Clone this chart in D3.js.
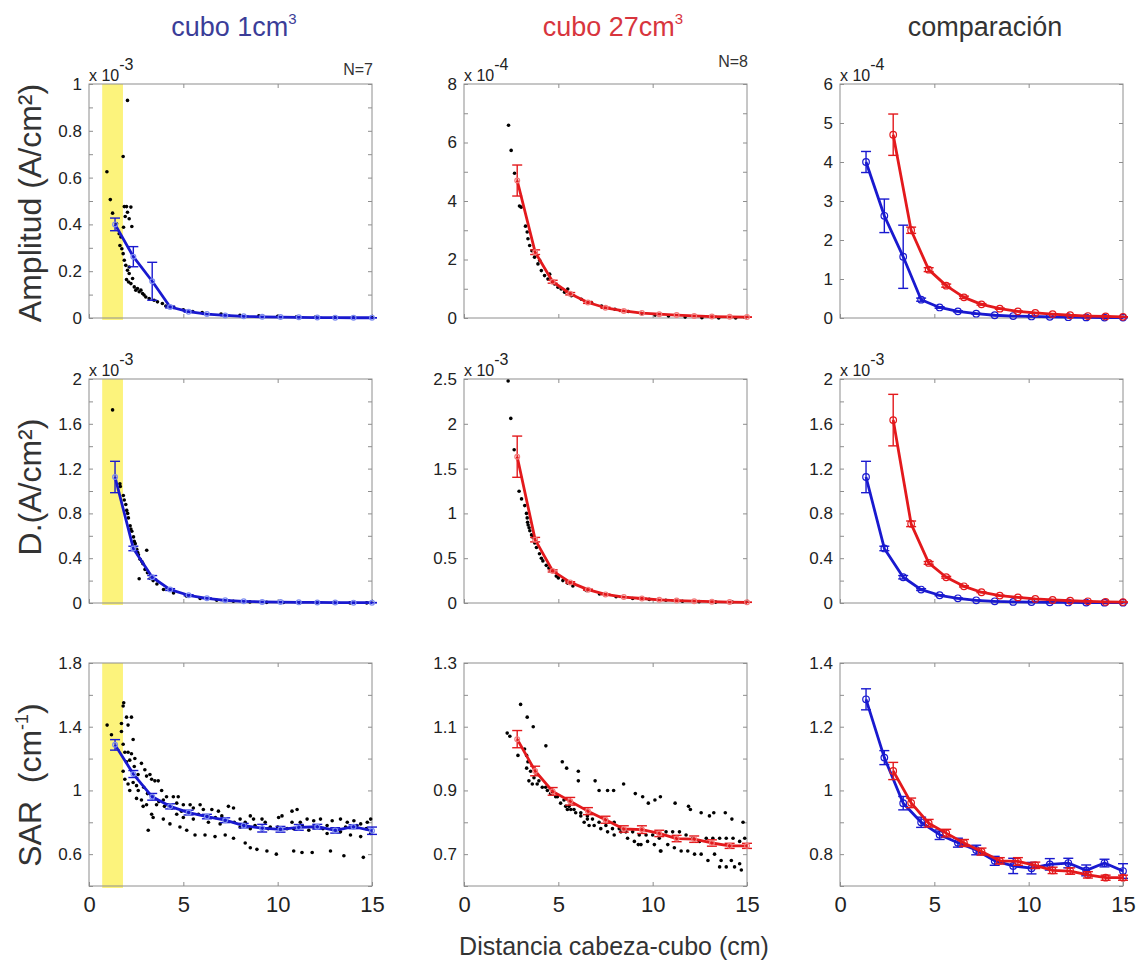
<!DOCTYPE html>
<html>
<head>
<meta charset="utf-8">
<script src="https://cdnjs.cloudflare.com/ajax/libs/d3/7.8.5/d3.min.js"></script>
<style>
    body { margin: 0; background: #fff; }
    svg text { font-family: "Liberation Sans", Arial, sans-serif; }
</style>
</head>
<body>
<svg id="chart" width="1148" height="965"></svg>
<script>
// distance bins (cm)
var distBlue = [1.38, 2.35, 3.35, 4.3, 5.28, 6.25, 7.22, 8.2, 9.18, 10.15, 11.12, 12.1, 13.05, 14.02, 15.0];
var distRed = [2.82, 3.77, 4.7, 5.63, 6.57, 7.5, 8.47, 9.43, 10.35, 11.27, 12.2, 13.14, 14.08, 15.0];

// amplitude, x 10^-4
var ampBlue = [4.0, 2.62, 1.57, 0.47, 0.27, 0.17, 0.11, 0.07, 0.05, 0.04, 0.03, 0.02, 0.015, 0.01, 0.01];
var ampBlueErr = [0.27, 0.43, 0.81, 0.04, 0.02, 0.015, 0.01, 0.008, 0.006, 0.005, 0.005, 0.004, 0.004, 0.003, 0.003];
var ampRed = [4.70, 2.25, 1.24, 0.83, 0.53, 0.35, 0.24, 0.17, 0.13, 0.10, 0.07, 0.05, 0.04, 0.03];
var ampRedErr = [0.53, 0.08, 0.05, 0.04, 0.03, 0.02, 0.015, 0.01, 0.01, 0.008, 0.006, 0.005, 0.004, 0.004];

// density, x 10^-3
var densBlue = [1.125, 0.487, 0.23, 0.12, 0.069, 0.042, 0.024, 0.015, 0.01, 0.008, 0.006, 0.005, 0.004, 0.003, 0.003];
var densBlueErr = [0.14, 0.02, 0.015, 0.008, 0.005, 0.003, 0.002, 0.002, 0.001, 0.001, 0.001, 0.001, 0.001, 0.001, 0.001];
var densRed = [1.633, 0.707, 0.358, 0.23, 0.149, 0.096, 0.066, 0.05, 0.036, 0.027, 0.02, 0.015, 0.01, 0.008];
var densRedErr = [0.23, 0.025, 0.012, 0.008, 0.006, 0.004, 0.003, 0.002, 0.002, 0.001, 0.001, 0.001, 0.001, 0.001];

// SAR (cm^-1)
var sarBlue = [1.286, 1.103, 0.96, 0.9, 0.861, 0.836, 0.813, 0.779, 0.763, 0.756, 0.768, 0.772, 0.749, 0.772, 0.747];
var sarBlueErr = [0.033, 0.022, 0.021, 0.016, 0.015, 0.014, 0.015, 0.014, 0.024, 0.018, 0.018, 0.015, 0.017, 0.012, 0.023];
var sarRed = [1.061, 0.961, 0.897, 0.866, 0.835, 0.808, 0.779, 0.777, 0.765, 0.749, 0.747, 0.735, 0.726, 0.726];
var sarRedErr = [0.027, 0.015, 0.012, 0.012, 0.011, 0.011, 0.01, 0.012, 0.01, 0.01, 0.01, 0.01, 0.008, 0.008];

// individual measurements (black dots)
var ampDots1 = [[2.04,0.93],[1.81,0.69],[0.95,0.625],[1.13,0.506],[1.25,0.448],[1.87,0.476],[1.99,0.476],[2.22,0.474],
    [2.04,0.452],[1.92,0.434],[2.13,0.424],[2.27,0.391],[1.83,0.388],[1.46,0.403],[1.6,0.36],[1.69,0.346],[1.64,0.31],
    [1.74,0.296],[1.81,0.275],[1.87,0.247],[1.95,0.225],[2.04,0.204],[2.13,0.19],[1.99,0.164],[2.1,0.154],[2.22,0.147],
    [2.4,0.133],[2.48,0.119],[2.66,0.112],[2.84,0.105],[3.01,0.09],[3.19,0.083],[3.45,0.076],[3.63,0.069],[3.89,0.062],
    [4.07,0.051],[2.57,0.126],[2.75,0.119],[2.92,0.098],[2.31,0.169],[2.13,0.218],[4.5,0.045],[5.0,0.035],[5.5,0.028],
    [6.0,0.023],[7.0,0.017],[8.0,0.012],[9.0,0.009],[10.0,0.007],[11.0,0.005],[12.0,0.004],[13.0,0.003],[14.0,0.003],[15.0,0.002]];
var ampDots27 = [[2.36,6.59],[2.5,5.73],[2.68,4.95],[2.94,3.83],[3.03,3.79],[3.26,3.14],[3.35,2.94],[3.39,2.71],[3.48,2.48],
    [3.6,2.3],[3.74,2.08],[3.92,1.85],[4.1,1.62],[4.27,1.45],[4.45,1.33],[4.71,1.22],[4.98,1.05],[5.33,0.88],[5.5,0.99],
    [5.69,0.76],[6.22,0.64],[6.76,0.53],[7.29,0.41],[8.0,0.3],[8.71,0.22],[9.42,0.15],[10.13,0.1],[10.84,0.07],[11.72,0.03],
    [12.61,0.01],[13.5,0.0],[14.4,0.0],[4.01,1.97],[4.54,1.5],[4.8,1.16],[5.15,0.99]];
var densDots1 = [[1.25,1.724],[1.64,1.064],[1.66,1.04],[1.82,0.96],[1.87,0.92],[2.0,0.827],[2.09,0.76],[2.18,0.69],[2.27,0.64],
    [2.36,0.59],[2.45,0.53],[2.53,0.48],[2.62,0.43],[2.71,0.39],[2.86,0.35],[3.06,0.471],[2.66,0.216],[2.97,0.3],[3.25,0.22],
    [3.6,0.17],[3.95,0.12],[4.48,0.09],[5.18,0.06],[5.89,0.04],[6.77,0.025],[7.65,0.015],[8.53,0.01],[9.42,0.006],[10.3,0.004],
    [11.19,0.003],[12.07,0.002],[12.96,0.002],[13.84,0.001],[14.72,0.001],[1.95,0.88],[2.05,0.8],[2.22,0.66],[2.4,0.55],
    [2.58,0.45],[2.8,0.37],[3.1,0.27],[3.4,0.2]];
var densDots27 = [[2.34,2.478],[2.48,2.06],[2.66,1.71],[2.92,1.248],[3.05,1.162],[3.22,1.087],[3.31,1.0],[3.37,0.9],[3.4,0.87],
    [3.49,0.807],[3.66,0.73],[3.84,0.62],[4.0,0.55],[4.18,0.47],[4.36,0.42],[4.62,0.36],[4.89,0.3],[5.24,0.25],[5.77,0.19],
    [6.48,0.14],[7.18,0.1],[8.06,0.07],[8.94,0.05],[9.82,0.04],[10.7,0.03],[11.58,0.02],[12.46,0.015],[13.34,0.01],[14.22,0.01],
    [14.93,0.01],[3.35,0.95],[3.45,0.84],[3.58,0.76],[3.75,0.67],[4.1,0.5],[4.5,0.39],[5.0,0.28],[5.5,0.22]];
var sarDots1 = [[1.84,1.55],[1.81,1.53],[0.96,1.41],[1.19,1.35],[1.72,1.42],[1.99,1.46],[2.25,1.46],[2.07,1.41],[1.72,1.37],
    [2.34,1.32],[1.81,1.29],[1.9,1.24],[2.07,1.24],[2.25,1.23],[2.16,1.19],[2.43,1.2],[1.99,1.18],[1.81,1.12],[1.9,1.07],
    [2.07,1.04],[2.16,1.0],[2.34,1.05],[2.52,1.03],[2.78,1.17],[2.96,1.13],[3.05,1.09],[3.23,1.1],[3.32,1.07],[3.49,1.06],
    [3.67,1.06],[2.61,1.0],[2.52,0.95],[2.78,0.94],[2.87,0.9],[3.05,0.91],[3.32,0.85],[3.58,0.91],[3.85,1.0],[3.94,0.94],
    [4.11,0.96],[4.47,0.96],[4.73,0.96],[4.2,0.91],[3.94,0.82],[3.4,0.83],[3.14,0.75],[4.29,0.79],[4.82,0.77],[5.18,0.75],
    [5.62,0.72],[6.15,0.72],[6.68,0.71],[7.22,0.72],[7.66,0.7],[8.28,0.67],[8.55,0.64],[8.9,0.63],[9.43,0.62],[9.93,0.6],
    [10.85,0.62],[11.29,0.61],[11.83,0.61],[12.8,0.62],[13.51,0.59],[14.54,0.58],
    [4.65,0.92],[5.0,0.91],[5.36,0.91],[5.53,0.89],[5.89,0.91],[6.06,0.88],[6.51,0.88],[6.86,0.87],[7.04,0.84],[7.39,0.9],
    [7.66,0.89],[8.01,0.82],[8.28,0.8],[8.55,0.84],[8.72,0.82],[9.17,0.82],[9.34,0.8],[10.05,0.83],[10.23,0.84],[10.76,0.87],
    [11.03,0.88],[10.76,0.8],[11.2,0.8],[11.56,0.82],[11.91,0.81],[12.27,0.82],[12.62,0.78],[12.89,0.81],[13.33,0.82],
    [13.69,0.8],[14.04,0.81],[14.4,0.79],[14.75,0.8],[14.93,0.82],
    [8.01,0.77],[8.55,0.76],[9.61,0.77],[10.14,0.75],[10.85,0.76],[11.65,0.75],[12.62,0.73],[13.33,0.74],[13.86,0.72],
    [14.4,0.71],[14.93,0.73],[6.95,0.79],[6.33,0.8],[5.53,0.82],[5.0,0.83],[4.65,0.85],
    [2.4,1.15],[2.6,1.1],[2.9,1.02],[3.1,0.98],[3.4,0.96],[3.7,0.93],[4.0,0.9],[4.4,0.89],[4.9,0.87],[5.3,0.86],[5.8,0.85],
    [6.3,0.84],[6.7,0.83],[7.2,0.81],[7.7,0.8],[8.3,0.78],[8.8,0.78],[9.5,0.76],[10.0,0.77],[10.5,0.76],[11.3,0.78],
    [11.9,0.77],[12.4,0.76],[13.1,0.75],[13.6,0.77],[14.2,0.78],[14.7,0.76]];
var sarDots27 = [[3.0,1.17],[3.35,1.13],[3.67,1.1],[2.29,1.08],[2.43,1.07],[2.86,1.01],[3.21,1.03],[3.32,1.01],[3.39,0.99],
    [3.32,0.97],[3.53,0.96],[4.34,1.04],[5.21,0.99],[5.44,0.97],[6.06,0.96],[6.06,0.93],[6.95,0.93],[7.16,0.9],[7.61,0.9],
    [7.93,0.9],[8.46,0.92],[9.08,0.89],[9.47,0.88],[9.77,0.86],[10.12,0.87],[10.41,0.88],[11.19,0.86],[11.9,0.85],[12.0,0.84],
    [12.57,0.83],[13.01,0.82],[13.24,0.83],[13.85,0.83],[14.2,0.81],[14.79,0.8],
    [3.44,0.93],[3.62,0.92],[3.88,0.92],[4.15,0.91],[4.42,0.9],[4.68,0.89],[4.86,0.88],[5.12,0.86],[5.39,0.85],[5.66,0.84],
    [5.92,0.83],[6.19,0.82],[6.37,0.8],[6.63,0.79],[6.9,0.79],[7.25,0.78],[7.61,0.77],[7.96,0.76],[8.32,0.77],[8.67,0.75],
    [9.03,0.74],[9.38,0.73],[9.73,0.74],[10.09,0.73],[10.44,0.71],[10.8,0.73],[11.15,0.72],[11.51,0.71],[11.86,0.71],
    [12.22,0.7],[12.57,0.7],[12.93,0.68],[13.28,0.7],[13.63,0.68],[13.9,0.66],[14.17,0.68],[14.34,0.66],[14.61,0.67],
    [14.7,0.65],[13.55,0.66],[10.41,0.71],[9.24,0.73],
    [3.71,0.94],[3.97,0.93],[4.33,0.91],[4.59,0.89],[4.95,0.88],[5.3,0.87],[5.57,0.85],[5.83,0.84],[6.19,0.83],[6.54,0.82],
    [6.81,0.81],[7.16,0.8],[7.52,0.79],[7.87,0.78],[8.23,0.78],[8.58,0.77],[8.94,0.77],[9.29,0.76],[9.65,0.76],[10.0,0.76],
    [10.35,0.75],[10.71,0.77],[11.06,0.77],[11.42,0.77],[11.77,0.76],[12.13,0.75],[12.48,0.74],[12.84,0.75],[13.19,0.75],
    [13.55,0.75],[13.9,0.75],[14.26,0.75],[14.61,0.74],[14.88,0.75],[7.96,0.8],[6.54,0.81],[5.48,0.84]];

// ticks
var distTicks = [0, 5, 10, 15];
var ampTicks1 = [0, 0.1, 0.2, 0.3, 0.4, 0.5, 0.6, 0.7, 0.8, 0.9, 1];
var ampLabels1 = [0, 0.2, 0.4, 0.6, 0.8, 1];
var ampTicks27 = [0, 1, 2, 3, 4, 5, 6, 7, 8];
var ampLabels27 = [0, 2, 4, 6, 8];
var ampTicksCmp = [0, 1, 2, 3, 4, 5, 6];
var densTicks1 = [0, 0.2, 0.4, 0.6, 0.8, 1, 1.2, 1.4, 1.6, 1.8, 2];
var densLabels1 = [0, 0.4, 0.8, 1.2, 1.6, 2];
var densTicks27 = [0, 0.5, 1, 1.5, 2, 2.5];
var sarTicks1 = [0.4, 0.6, 0.8, 1, 1.2, 1.4, 1.6, 1.8];
var sarLabels1 = [0.6, 1, 1.4, 1.8];
var sarTicks27 = [0.6, 0.7, 0.8, 0.9, 1, 1.1, 1.2, 1.3];
var sarLabels27 = [0.7, 0.9, 1.1, 1.3];
var sarTicksCmp = [0.7, 0.8, 0.9, 1, 1.1, 1.2, 1.3, 1.4];
var sarLabelsCmp = [0.8, 1, 1.2, 1.4];

var blue = "#1919cf", red = "#e3191c";
var blueLight = "#7d8cf0", redLight = "#f27a7a";

var svg = d3.select("#chart");
var colLeft = [89, 464, 840], colWidth = 283;
var rowTop = [84, 379, 663], rowHeight = [234, 224, 223];

function s(x, y, e, color, light) { return {x: x, y: y, e: e, color: color, light: light}; }

var panels = [
    {row: 0, col: 0, dom: [0, 1], ticks: ampTicks1, labels: ampLabels1, dots: ampDots1, exp: "-3", note: "N=7",
        series: [s(distBlue, ampBlue.map(function(v){ return v / 10; }), ampBlueErr.map(function(v){ return v / 10; }), blue, blueLight)]},
    {row: 0, col: 1, dom: [0, 8], ticks: ampTicks27, labels: ampLabels27, dots: ampDots27, exp: "-4", note: "N=8",
        series: [s(distRed, ampRed, ampRedErr, red, redLight)]},
    {row: 0, col: 2, dom: [0, 6], ticks: ampTicksCmp, labels: ampTicksCmp, exp: "-4", cmp: true,
        series: [s(distBlue, ampBlue, ampBlueErr, blue), s(distRed, ampRed, ampRedErr, red)]},
    {row: 1, col: 0, dom: [0, 2], ticks: densTicks1, labels: densLabels1, dots: densDots1, exp: "-3",
        series: [s(distBlue, densBlue, densBlueErr, blue, blueLight)]},
    {row: 1, col: 1, dom: [0, 2.5], ticks: densTicks27, labels: densTicks27, dots: densDots27, exp: "-3",
        series: [s(distRed, densRed, densRedErr, red, redLight)]},
    {row: 1, col: 2, dom: [0, 2], ticks: densTicks1, labels: densLabels1, exp: "-3", cmp: true,
        series: [s(distBlue, densBlue, densBlueErr, blue), s(distRed, densRed, densRedErr, red)]},
    {row: 2, col: 0, dom: [0.4, 1.8], ticks: sarTicks1, labels: sarLabels1, dots: sarDots1,
        series: [s(distBlue, sarBlue, sarBlueErr, blue, blueLight)]},
    {row: 2, col: 1, dom: [0.6, 1.3], ticks: sarTicks27, labels: sarLabels27, dots: sarDots27,
        series: [s(distRed, sarRed, sarRedErr, red, redLight)]},
    {row: 2, col: 2, dom: [0.7, 1.4], ticks: sarTicksCmp, labels: sarLabelsCmp, cmp: true,
        series: [s(distBlue, sarBlue, sarBlueErr, blue), s(distRed, sarRed, sarRedErr, red)]}
];

function fmt(v) { return String(+v.toFixed(2)); }

panels.forEach(function(p) {
    var w = colWidth, h = rowHeight[p.row];
    var left = colLeft[p.col], top = rowTop[p.row];
    var g = svg.append("g").attr("transform", "translate(" + left + "," + top + ")");

    var x = d3.scaleLinear().domain([0, 15]).range([0, w]);
    var y = d3.scaleLinear().domain(p.dom).range([h, 0]);

    // yellow band for cube 1 panels
    if (p.col === 0) {
        g.append("rect")
            .attr("x", x(0.7)).attr("y", 0)
            .attr("width", x(1.8) - x(0.7)).attr("height", h + 2)
            .attr("fill", "#fcf37c");
    }

    g.append("rect")
        .attr("width", w).attr("height", h)
        .attr("fill", "none").attr("stroke", "#8e8e8e");

    var isLabel = function(v) { return p.labels.some(function(l){ return Math.abs(l - v) < 1e-9; }); };

    var yl = g.append("g")
        .call(d3.axisLeft(y).tickValues(p.ticks).tickSizeInner(-4).tickSizeOuter(0).tickPadding(7)
            .tickFormat(function(v){ return isLabel(v) ? fmt(v) : ""; }));
    var yr = g.append("g").attr("transform", "translate(" + w + ",0)")
        .call(d3.axisRight(y).tickValues(p.ticks).tickSizeInner(-4).tickSizeOuter(0).tickFormat(""));
    var xt = g.append("g")
        .call(d3.axisTop(x).tickValues([5, 10]).tickSizeInner(-4).tickSizeOuter(0).tickFormat(""));
    var xb = g.append("g").attr("transform", "translate(0," + h + ")")
        .call(d3.axisBottom(x).tickValues(distTicks).tickSizeInner(-4).tickSizeOuter(0).tickPadding(10)
            .tickFormat(p.row === 2 ? d3.format("d") : ""));

    [yl, yr, xt, xb].forEach(function(a) {
        a.select(".domain").remove();
        a.selectAll(".tick line").attr("stroke", "#8e8e8e");
    });
    yl.selectAll("text").attr("font-size", 17).attr("fill", "#222");
    xb.selectAll("text").attr("font-size", 22).attr("fill", "#222");

    // scatter of individual cases
    if (p.dots) {
        g.append("g").selectAll("circle")
            .data(p.dots).enter().append("circle")
            .attr("cx", function(d){ return x(d[0]); })
            .attr("cy", function(d){ return y(d[1]); })
            .attr("r", 1.8)
            .attr("fill", "#000");
    }

    var line = d3.line()
        .x(function(d){ return x(d[0]); })
        .y(function(d){ return y(d[1]); });

    p.series.forEach(function(sr) {
        var pts = sr.x.map(function(v, i){ return [v, sr.y[i], sr.e[i]]; });
        var sg = g.append("g");

        // error bars
        var eb = sg.selectAll(".err").data(pts).enter().append("g").attr("class", "err")
            .attr("stroke", sr.color).attr("stroke-width", 1.4);
        eb.append("line")
            .attr("x1", function(d){ return x(d[0]); }).attr("x2", function(d){ return x(d[0]); })
            .attr("y1", function(d){ return y(d[1] - d[2]); }).attr("y2", function(d){ return y(d[1] + d[2]); });
        eb.append("line")
            .attr("x1", function(d){ return x(d[0]) - 5; }).attr("x2", function(d){ return x(d[0]) + 5; })
            .attr("y1", function(d){ return y(d[1] - d[2]); }).attr("y2", function(d){ return y(d[1] - d[2]); });
        eb.append("line")
            .attr("x1", function(d){ return x(d[0]) - 5; }).attr("x2", function(d){ return x(d[0]) + 5; })
            .attr("y1", function(d){ return y(d[1] + d[2]); }).attr("y2", function(d){ return y(d[1] + d[2]); });

        sg.append("path")
            .datum(pts)
            .attr("d", line)
            .attr("fill", "none")
            .attr("stroke", sr.color)
            .attr("stroke-width", 2.8)
            .attr("stroke-linejoin", "round");

        sg.selectAll(".mk").data(pts).enter().append("circle").attr("class", "mk")
            .attr("cx", function(d){ return x(d[0]); })
            .attr("cy", function(d){ return y(d[1]); })
            .attr("r", p.cmp ? 3.3 : 2.4)
            .attr("fill", "none")
            .attr("stroke", p.cmp ? sr.color : sr.light)
            .attr("stroke-width", 1.2);
    });

    if (p.exp) {
        var t = g.append("text").attr("x", 0).attr("y", -3)
            .attr("font-size", 16).attr("fill", "#222").text("x 10");
        t.append("tspan").attr("dy", -11).attr("font-size", 16).text(p.exp);
    }
    if (p.note) {
        g.append("text").attr("x", w + 1).attr("y", p.col === 0 ? -9 : -17)
            .attr("text-anchor", "end").attr("font-size", 16).attr("fill", "#333").text(p.note);
    }
});

// column titles
function title(xp, txt, sup, color) {
    var t = svg.append("text").attr("x", xp).attr("y", 36)
        .attr("text-anchor", "middle").attr("font-size", 27).attr("fill", color).text(txt);
    if (sup) t.append("tspan").attr("dy", -12).attr("font-size", 15).text(sup);
}
title(234, "cubo 1cm", "3", "#3b3d98");
title(613, "cubo 27cm", "3", "#d8353d");
title(985, "comparación", null, "#333");

// row labels
function rowLabel(cy, build) {
    var t = svg.append("text")
        .attr("transform", "translate(41," + cy + ") rotate(-90)")
        .attr("text-anchor", "middle").attr("font-size", 32).attr("fill", "#333");
    build(t);
}
rowLabel(203, function(t){ t.text("Amplitud (A/cm²)"); });
rowLabel(487, function(t){ t.text("D.(A/cm²)"); });
rowLabel(785, function(t){
    t.append("tspan").text("SAR\u00a0\u00a0(cm");
    t.append("tspan").attr("dy", -13).attr("font-size", 18).text("-1");
    t.append("tspan").attr("dy", 13).text(")");
});

svg.append("text")
    .attr("x", 614).attr("y", 955)
    .attr("text-anchor", "middle").attr("font-size", 25).attr("fill", "#333")
    .text("Distancia cabeza-cubo (cm)");
</script>
</body>
</html>
